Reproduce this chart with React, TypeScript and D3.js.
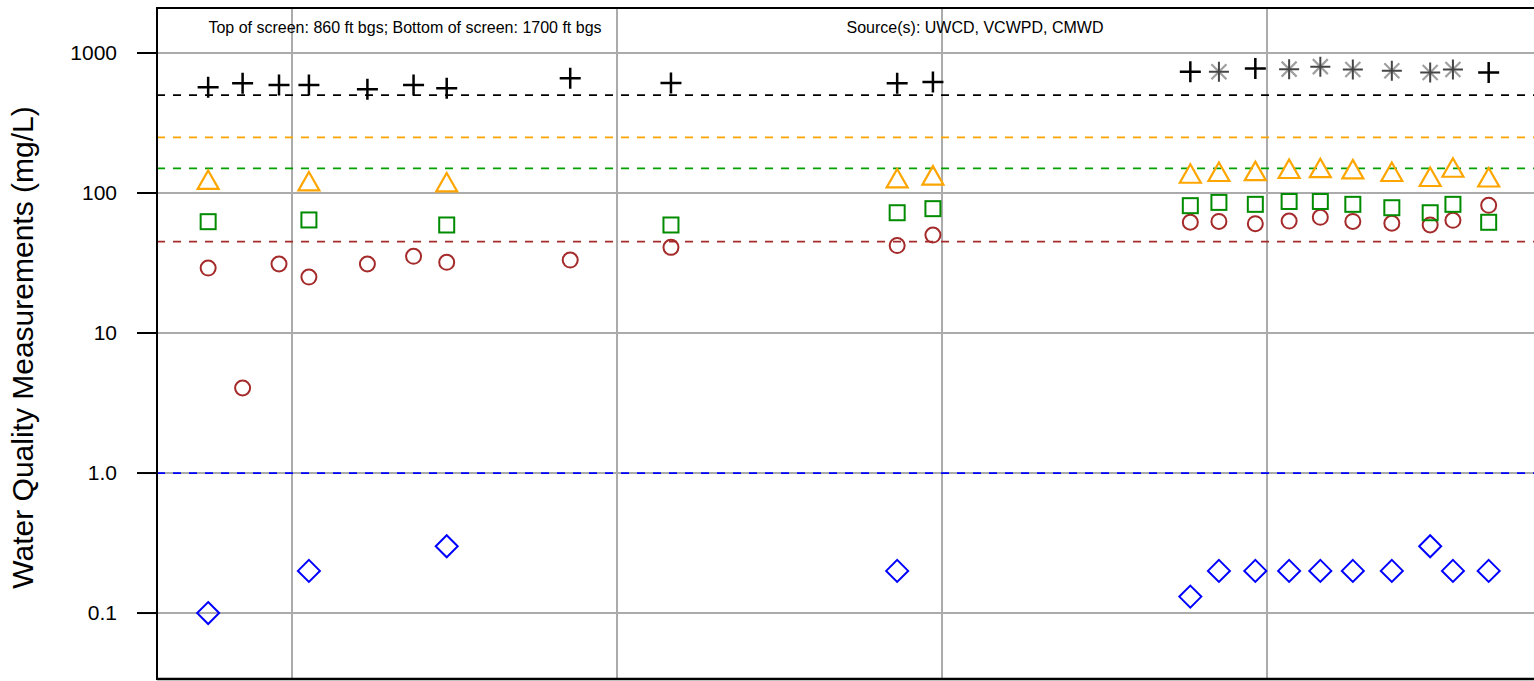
import React from 'react';
import * as d3 from 'd3';

// sample dates (decimal years)
const sampleDates = [
  1993.71, 1994.24, 1994.80, 1995.26, 1996.16, 1996.87, 1997.38, 1999.28, 2000.83,
  2004.31, 2004.86, 2008.82, 2009.26, 2009.82, 2010.34, 2010.82, 2011.32, 2011.92,
  2012.51, 2012.86, 2013.41,
];
type V = number | null;
const tds: V[] = [569, 608, 591, 591, 551, 591, 560, 659, 610, 609, 620, 734, null, 776, null, null, null, null, null, null, 726];
const tdsCalc: V[] = [null, null, null, null, null, null, null, null, null, null, null, null, 734, null, 767, 799, 762, 746, 726, 762, null];
const sulfate: V[] = [122, null, null, 119, null, null, 117, null, null, 125, 131, 135, 139, 141, 146, 148, 145, 139, 128, 149, 127];
const chloride: V[] = [62.4, null, null, 64.2, null, null, 59.1, null, 59.1, 72.3, 77.3, 81.2, 85.7, 83, 87, 87, 83, 78.5, 72.3, 83, 61.8];
const nitrate: V[] = [29.1, 4.05, 31.1, 25.1, 31.1, 35.3, 32, 33.2, 40.9, 42.1, 50.1, 61.8, 62.7, 60.4, 63, 67, 62.7, 60.8, 59.1, 63.8, 81.7];
const boron: V[] = [0.1, null, null, 0.2, null, null, 0.3, null, null, 0.2, null, 0.131, 0.2, 0.2, 0.2, 0.2, 0.2, 0.2, 0.3, 0.2, 0.2];

const thresholds = [500, 250, 150, 45, 1.0];
const thresholdColors = ['#000000', '#FFA500', '#00A000', '#A52A2A', '#0000FF'];
const yTickValues = [0.1, 1, 10, 100, 1000];
const yTickLabels = ['0.1', '1.0', '10', '100', '1000'];
const xGridYears = [1995, 2000, 2005, 2010];

const W = 1534, H = 681;
const left = 157, top = 8, bottom = 679, right = 1536;

export default function App() {
  const x = d3.scaleLinear().domain([1992.923, 2014.138]).range([left, right]);
  const y = d3.scaleLog().domain([0.0338, 2096]).range([bottom, top]);

  const pts = (arr: V[]) =>
    arr.map((v, i) => (v == null ? null : { cx: x(sampleDates[i]), cy: y(v), key: i })).filter(Boolean) as { cx: number; cy: number; key: number }[];

  const font = '"Liberation Sans", Arial, sans-serif';

  return (
    <svg width={W} height={H} style={{ position: 'absolute', left: 0, top: 0, background: '#fff' }} fontFamily={font}>
      {/* grid */}
      {yTickValues.map((v) => (
        <line key={'hg' + v} x1={left} x2={W} y1={y(v)} y2={y(v)} stroke="#ABABAB" strokeWidth={2} />
      ))}
      {xGridYears.map((yr) => (
        <line key={'vg' + yr} x1={x(yr)} x2={x(yr)} y1={top} y2={bottom} stroke="#ABABAB" strokeWidth={2} />
      ))}
      {/* thresholds */}
      {thresholds.map((t, i) => (
        <line key={'th' + t} x1={left} x2={W} y1={y(t)} y2={y(t)} stroke={thresholdColors[i]} strokeWidth={1.8} strokeDasharray="8,8" />
      ))}
      {/* frame */}
      <line x1={left} x2={W} y1={top} y2={top} stroke="#000" strokeWidth={2} />
      <line x1={left} x2={W} y1={bottom} y2={bottom} stroke="#000" strokeWidth={2.5} />
      <line x1={left} x2={left} y1={top - 1} y2={bottom + 1} stroke="#000" strokeWidth={2} />
      {/* y axis */}
      {yTickValues.map((v, i) => (
        <g key={'yt' + v}>
          <line x1={left - 20} x2={left} y1={y(v)} y2={y(v)} stroke="#000" strokeWidth={2} />
          <text x={117} y={y(v)} dy="0.35em" textAnchor="end" fontSize={21} fill="#000">{yTickLabels[i]}</text>
        </g>
      ))}
      <text transform={`translate(33,${(top + bottom) / 2 + 4}) rotate(-90)`} textAnchor="middle" fontSize={30} fill="#000">
        Water Quality Measurements (mg/L)
      </text>
      <text x={405} y={33} textAnchor="middle" fontSize={16} fill="#000">Top of screen: 860 ft bgs; Bottom of screen: 1700 ft bgs</text>
      <text x={975} y={33} textAnchor="middle" fontSize={16} fill="#000">Source(s): UWCD, VCWPD, CMWD</text>

      {/* boron diamonds */}
      {pts(boron).map((p) => (
        <path key={'b' + p.key} d={`M${p.cx},${p.cy - 11}L${p.cx + 11},${p.cy}L${p.cx},${p.cy + 11}L${p.cx - 11},${p.cy}Z`} fill="none" stroke="#0000FF" strokeWidth={2} />
      ))}
      {/* nitrate circles */}
      {pts(nitrate).map((p) => (
        <circle key={'n' + p.key} cx={p.cx} cy={p.cy} r={7.5} fill="none" stroke="#A52A2A" strokeWidth={2} />
      ))}
      {/* chloride squares */}
      {pts(chloride).map((p) => (
        <rect key={'c' + p.key} x={p.cx - 7.5} y={p.cy - 7.5} width={15} height={15} fill="none" stroke="#008B00" strokeWidth={2} />
      ))}
      {/* sulfate triangles */}
      {pts(sulfate).map((p) => (
        <path key={'s' + p.key} d={`M${p.cx},${p.cy - 10.5}L${p.cx + 10.5},${p.cy + 8}L${p.cx - 10.5},${p.cy + 8}Z`} fill="none" stroke="#FFA500" strokeWidth={2.2} />
      ))}
      {/* TDS plus */}
      {pts(tds).map((p) => (
        <path key={'t' + p.key} d={`M${p.cx - 10.5},${p.cy}H${p.cx + 10.5}M${p.cx},${p.cy - 10.5}V${p.cy + 10.5}`} stroke="#000" strokeWidth={2.5} />
      ))}
      {/* TDS calculated asterisk */}
      {pts(tdsCalc).map((p) => (
        <g key={'tc' + p.key}>
          <path d={`M${p.cx - 7.5},${p.cy - 7.5}L${p.cx + 7.5},${p.cy + 7.5}M${p.cx - 7.5},${p.cy + 7.5}L${p.cx + 7.5},${p.cy - 7.5}`} stroke="#A0A0A0" strokeWidth={2.2} />
          <path d={`M${p.cx - 10},${p.cy}H${p.cx + 10}M${p.cx},${p.cy - 10}V${p.cy + 10}`} stroke="#444444" strokeWidth={2} />
        </g>
      ))}
    </svg>
  );
}
